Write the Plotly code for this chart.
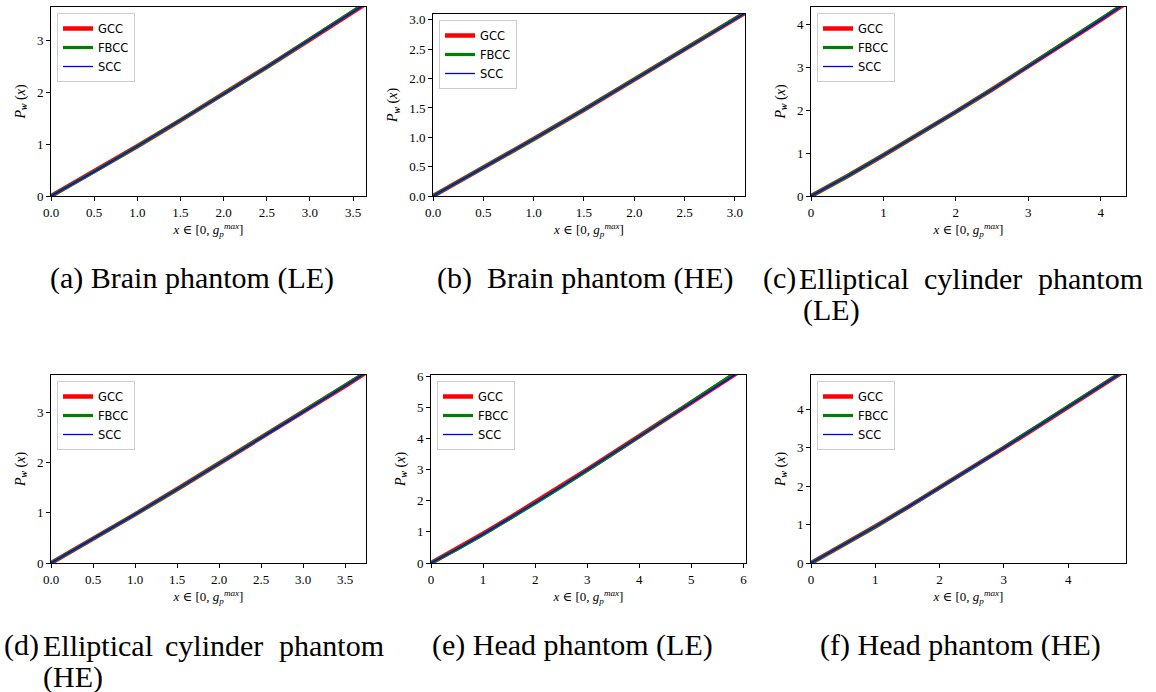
import plotly.graph_objects as go

# ---------------- data ----------------
XA = [0, 0.5, 1.0, 1.5, 2.0, 2.5, 3.0, 3.5, 3.7]
GCC_A = [0, 0.47, 0.96, 1.46, 1.97, 2.49, 3.02, 3.56, 3.77]
FBCC_A = [0, 0.47, 0.96, 1.46, 1.97, 2.49, 3.03, 3.57, 3.79]
SCC_A = [0, 0.47, 0.96, 1.46, 1.97, 2.49, 3.02, 3.56, 3.77]

XB = [0, 0.5, 1.0, 1.5, 2.0, 2.5, 3.0, 3.2]
GCC_B = [0, 0.48, 0.97, 1.47, 1.98, 2.49, 3.01, 3.22]
FBCC_B = [0, 0.48, 0.97, 1.47, 1.98, 2.50, 3.02, 3.23]
SCC_B = [0, 0.48, 0.97, 1.47, 1.98, 2.49, 3.01, 3.22]

XC = [0, 0.5, 1.0, 1.5, 2.0, 2.5, 3.0, 3.5, 4.0, 4.5]
GCC_C = [0, 0.46, 0.95, 1.45, 1.96, 2.48, 3.01, 3.55, 4.10, 4.66]
FBCC_C = [0, 0.46, 0.95, 1.45, 1.96, 2.48, 3.02, 3.56, 4.11, 4.67]
SCC_C = [0, 0.46, 0.95, 1.45, 1.96, 2.48, 3.01, 3.55, 4.10, 4.66]

XD = [0, 0.5, 1.0, 1.5, 2.0, 2.5, 3.0, 3.5, 3.8]
GCC_D = [0, 0.48, 0.97, 1.47, 1.98, 2.49, 3.01, 3.53, 3.85]
FBCC_D = [0, 0.48, 0.97, 1.47, 1.98, 2.50, 3.02, 3.54, 3.86]
SCC_D = [0, 0.48, 0.97, 1.47, 1.98, 2.49, 3.01, 3.53, 3.85]

XE = [0, 0.5, 1.0, 1.5, 2.0, 2.5, 3.0, 3.5, 4.0, 4.5, 5.0, 5.5, 6.0]
GCC_E = [0, 0.46, 0.94, 1.44, 1.95, 2.47, 3.00, 3.54, 4.08, 4.63, 5.16, 5.70, 6.25]
FBCC_E = [0, 0.44, 0.91, 1.41, 1.92, 2.44, 2.97, 3.52, 4.07, 4.63, 5.18, 5.74, 6.30]
SCC_E = [0, 0.45, 0.93, 1.43, 1.94, 2.46, 2.99, 3.53, 4.07, 4.62, 5.15, 5.69, 6.23]

XF = [0, 0.5, 1.0, 1.5, 2.0, 2.5, 3.0, 3.5, 4.0, 4.5, 5.0]
GCC_F = [0, 0.47, 0.95, 1.45, 1.96, 2.48, 3.00, 3.53, 4.06, 4.60, 5.14]
FBCC_F = [0, 0.47, 0.95, 1.45, 1.96, 2.48, 3.01, 3.54, 4.07, 4.61, 5.15]
SCC_F = [0, 0.47, 0.95, 1.45, 1.96, 2.48, 3.00, 3.53, 4.06, 4.60, 5.14]

SERIES = ["GCC", "FBCC", "SCC"]
CAPTIONS_SIMPLE = ["(a) Brain phantom (LE)", "(b)  Brain phantom (HE)",
                   "(e) Head phantom (LE)", "(f) Head phantom (HE)"]
CAPTION_C_WORDS = ["(c)", "Elliptical", "cylinder", "phantom", "(LE)"]
CAPTION_D_WORDS = ["(d)", "Elliptical", "cylinder", "phantom", "(HE)"]

panels = [
    dict(x=XA, ys=[GCC_A, FBCC_A, SCC_A], xr=3.65, yr=3.65,
         xt=[0, 0.5, 1.0, 1.5, 2.0, 2.5, 3.0, 3.5], yt=[0, 1, 2, 3], xf=".1f", yf="d"),
    dict(x=XB, ys=[GCC_B, FBCC_B, SCC_B], xr=3.1, yr=3.1,
         xt=[0, 0.5, 1.0, 1.5, 2.0, 2.5, 3.0], yt=[0, 0.5, 1.0, 1.5, 2.0, 2.5, 3.0], xf=".1f", yf=".1f"),
    dict(x=XC, ys=[GCC_C, FBCC_C, SCC_C], xr=4.35, yr=4.4,
         xt=[0, 1, 2, 3, 4], yt=[0, 1, 2, 3, 4], xf="d", yf="d"),
    dict(x=XD, ys=[GCC_D, FBCC_D, SCC_D], xr=3.75, yr=3.75,
         xt=[0, 0.5, 1.0, 1.5, 2.0, 2.5, 3.0, 3.5], yt=[0, 1, 2, 3], xf=".1f", yf="d"),
    dict(x=XE, ys=[GCC_E, FBCC_E, SCC_E], xr=6.05, yr=6.05,
         xt=[0, 1, 2, 3, 4, 5, 6], yt=[0, 1, 2, 3, 4, 5, 6], xf="d", yf="d"),
    dict(x=XF, ys=[GCC_F, FBCC_F, SCC_F], xr=4.9, yr=4.9,
         xt=[0, 1, 2, 3, 4], yt=[0, 1, 2, 3, 4], xf="d", yf="d"),
]

# ---------------- layout geometry (pixels) ----------------
W, H = 1156, 692
boxes = [  # left, right, top, bottom
    (51, 366, 7, 196), (433, 745, 14, 196), (811, 1126, 7, 196),
    (51, 366, 375, 563), (431, 746, 375, 563), (811, 1126, 375, 563),
]
colors = ["#ff0000", "#008000", "#0000ff"]
widths = [4.5, 3.2, 1.3]

SERIF = "Liberation Serif, DejaVu Serif, serif"
fig = go.Figure()
layout = dict(width=W, height=H, margin=dict(l=0, r=0, t=0, b=0, autoexpand=False),
              paper_bgcolor="white", plot_bgcolor="white", showlegend=True)
annotations = []

for i, (p, (l, r, t, b)) in enumerate(zip(panels, boxes)):
    k = "" if i == 0 else str(i + 1)
    lg = "legend" + k
    for s, yv, c, w in zip(SERIES, p["ys"], colors, widths):
        fig.add_trace(go.Scatter(x=p["x"], y=yv, mode="lines", name=s,
                                 line=dict(color=c, width=w),
                                 xaxis="x" + k, yaxis="y" + k, legend=lg))
    common = dict(showgrid=False, zeroline=False, automargin=False,
                  showline=True, linecolor="black", linewidth=1, mirror=True,
                  ticks="outside", ticklen=4, tickcolor="black",
                  tickfont=dict(family=SERIF, size=13, color="black"))
    ax = dict(domain=[l / W, r / W], range=[0, p["xr"]], tickvals=p["xt"],
              tickformat=p["xf"], anchor="y" + k,
              title=dict(text="<i>x</i> ∈ [0, <i>g</i><sub><i>p</i></sub><sup><i>max</i></sup>]",
                         font=dict(family=SERIF, size=13, color="black"), standoff=6),
              **common)
    ay = dict(domain=[1 - b / H, 1 - t / H], range=[0, p["yr"]], tickvals=p["yt"],
              tickformat=p["yf"], anchor="x" + k,
              title=dict(text="<i>P</i><sub><b><i>w</i></b></sub> (<i>x</i>)",
                         font=dict(family=SERIF, size=14, color="black"), standoff=8),
              **common)
    layout["xaxis" + k] = ax
    layout["yaxis" + k] = ay
    layout[lg] = dict(x=(l + 6) / W, y=1 - (t + 6) / H, xanchor="left", yanchor="top",
                      bgcolor="rgba(255,255,255,0.85)", bordercolor="#cccccc", borderwidth=1,
                      font=dict(family="DejaVu Sans, sans-serif", size=11.5, color="black"),
                      tracegroupgap=0, itemwidth=30)

CAP_FONT = dict(family=SERIF, size=30, color="black")
# simple captions (centre x, centre y in pixels)
cap_pos = [(192, 278), (585, 278), (572, 645), (960, 645)]
for txt, (cx, cy) in zip(CAPTIONS_SIMPLE, cap_pos):
    annotations.append(dict(text=txt, x=cx / W, y=1 - cy / H, xref="paper", yref="paper",
                            showarrow=False, xanchor="center", yanchor="middle", font=CAP_FONT))
# justified two-line captions: word centres
c_pos = [(779, 278), (854, 278), (973, 278), (1090, 278), (831, 310)]
d_pos = [(21, 645), (98, 645), (214, 645), (331, 645), (73, 677)]
for words, pos in ((CAPTION_C_WORDS, c_pos), (CAPTION_D_WORDS, d_pos)):
    for wd, (cx, cy) in zip(words, pos):
        annotations.append(dict(text=wd, x=cx / W, y=1 - cy / H, xref="paper", yref="paper",
                                showarrow=False, xanchor="center", yanchor="middle", font=CAP_FONT))
layout["annotations"] = annotations

fig.update_layout(**layout)
fig.write_html("out.html")
